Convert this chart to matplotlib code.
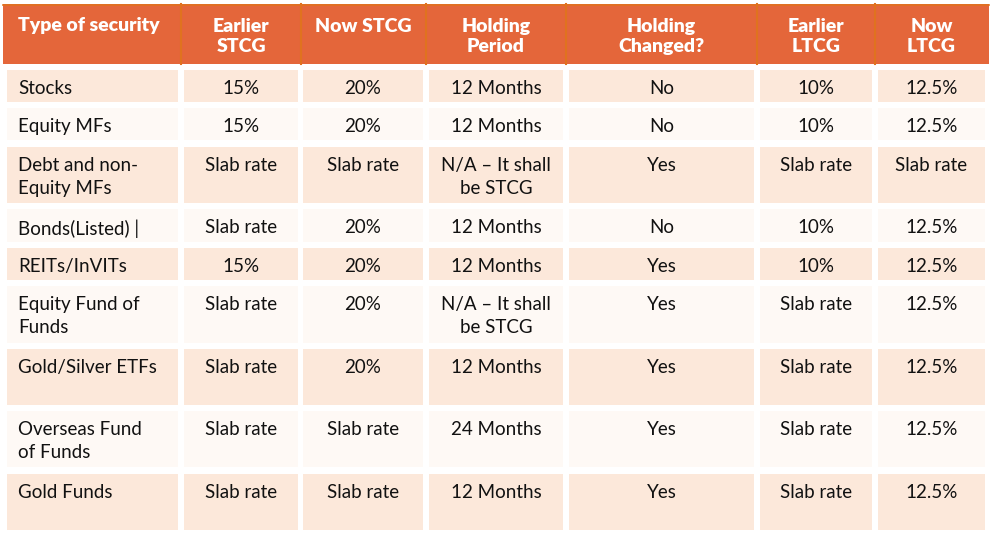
import matplotlib
matplotlib.use("Agg")
import matplotlib.pyplot as plt
from matplotlib.patches import Rectangle

# Données du tableau
headers = ["Type of security", "Earlier\nSTCG", "Now STCG", "Holding\nPeriod",
           "Holding\nChanged?", "Earlier\nLTCG", "Now\nLTCG"]
security = ["Stocks", "Equity MFs", "Debt and non-\nEquity MFs", "Bonds(Listed) |",
            "REITs/InVITs", "Equity Fund of\nFunds", "Gold/Silver ETFs",
            "Overseas Fund\nof Funds", "Gold Funds"]
earlier_stcg = ["15%", "15%", "Slab rate", "Slab rate", "15%", "Slab rate",
                "Slab rate", "Slab rate", "Slab rate"]
now_stcg = ["20%", "20%", "Slab rate", "20%", "20%", "20%", "20%",
            "Slab rate", "Slab rate"]
holding = ["12 Months", "12 Months", "N/A \u2013 It shall\nbe STCG", "12 Months",
           "12 Months", "N/A \u2013 It shall\nbe STCG", "12 Months", "24 Months",
           "12 Months"]
changed = ["No", "No", "Yes", "No", "Yes", "Yes", "Yes", "Yes", "Yes"]
earlier_ltcg = ["10%", "10%", "Slab rate", "10%", "10%", "Slab rate",
                "Slab rate", "Slab rate", "Slab rate"]
now_ltcg = ["12.5%", "12.5%", "Slab rate", "12.5%", "12.5%", "12.5%", "12.5%",
            "12.5%", "12.5%"]
columns = [security, earlier_stcg, now_stcg, holding, changed, earlier_ltcg, now_ltcg]

# Mise en page (pixels)
HEADER = "#E4663A"
HEADER_LINE = "#E0721F"
PEACH = "#FCE8DA"
LIGHT = "#FEF9F5"
col_left = [7, 184, 303, 429, 569, 760, 878]
col_right = [178, 298, 423, 563, 754, 872, 985]
header_seps = [181, 301, 426, 566, 757, 875]
row_top = [70, 108, 147, 209, 248, 286, 349, 411, 474]
row_bot = [102, 140, 203, 242, 280, 343, 405, 467, 530]

plt.rcParams["font.family"] = ["Lato", "DejaVu Sans"]

fig = plt.figure(figsize=(9.93, 5.33), dpi=100)
ax = fig.add_axes([0, 0, 1, 1])
ax.set_xlim(0, 993)
ax.set_ylim(533, 0)
ax.axis("off")

# En-tête
ax.add_patch(Rectangle((3, 4), 986, 60, facecolor=HEADER, edgecolor="none"))
ax.plot([3, 989], [4.5, 4.5], color=HEADER_LINE, lw=1.2)
for x in header_seps:
    ax.plot([x, x], [4, 64], color=HEADER_LINE, lw=1.5)
for j, h in enumerate(headers):
    if j == 0:
        ax.text(18, 25, h, color="white", fontsize=14, fontweight="heavy",
                ha="left", va="center")
    else:
        cx = (col_left[j] + col_right[j]) / 2
        ax.text(cx, 18, h, color="white", fontsize=14, fontweight="heavy",
                ha="center", va="top", linespacing=1.2)

# Lignes du tableau
for i in range(len(security)):
    fc = PEACH if i % 2 == 0 else LIGHT
    for j, col in enumerate(columns):
        ax.add_patch(Rectangle((col_left[j], row_top[i]), col_right[j] - col_left[j],
                               row_bot[i] - row_top[i], facecolor=fc, edgecolor="none"))
        if j == 0:
            x, ha = 18, "left"
        else:
            x, ha = (col_left[j] + col_right[j]) / 2, "center"
        ax.text(x, row_top[i] + 10, col[i], fontsize=13.5, color="#111111",
                ha=ha, va="top", linespacing=1.45)

fig.savefig("out.png", dpi=100)
